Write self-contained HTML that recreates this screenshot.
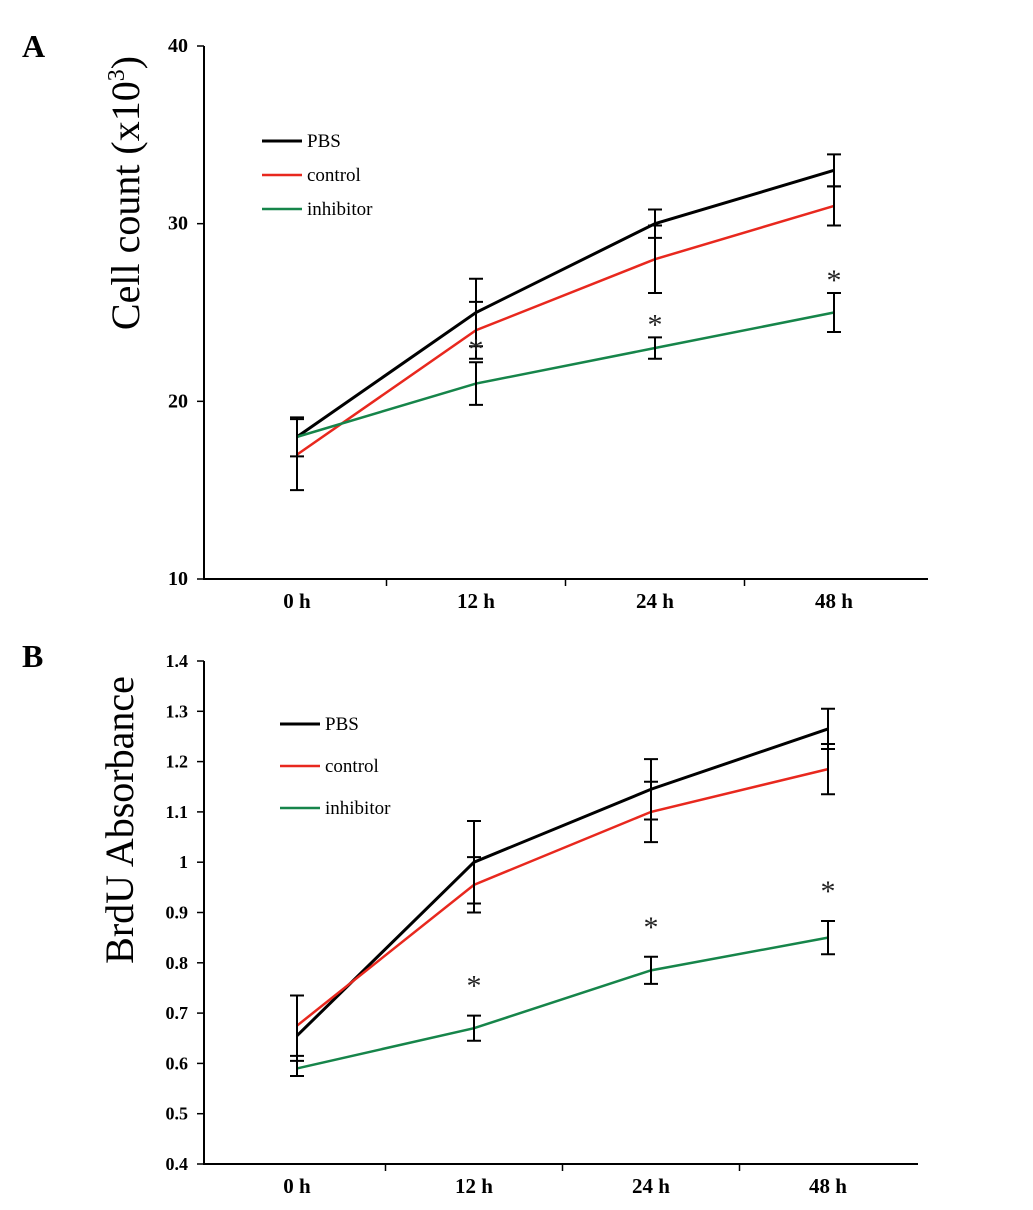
<!DOCTYPE html>
<html><head><meta charset="utf-8"><style>body{margin:0;background:#fff}svg{display:block}</style></head>
<body>
<svg id="c" width="1033" height="1210" xmlns="http://www.w3.org/2000/svg" font-family="Liberation Serif, serif"></svg>
<script>
const categories=["0 h","12 h","24 h","48 h"];
const seriesNames=["PBS","control","inhibitor"];
const colors=["#000","#e8281e","#16854a"];
const aPBS=[18,25,30,33], aCtrl=[17,24,28,31], aInh=[18,21,23,25];
const aPBSErr=[1.1,1.9,0.8,0.9], aCtrlErr=[2,1.6,1.9,1.1], aInhErr=[0.05,1.2,0.6,1.1];
const aTicks=[10,20,30,40];
const bPBS=[0.655,1.0,1.145,1.265], bCtrl=[0.675,0.955,1.10,1.185], bInh=[0.59,0.67,0.785,0.85];
const bPBSErr=[0.08,0.082,0.06,0.04], bCtrlErr=[0.06,0.055,0.06,0.05], bInhErr=[0.015,0.025,0.027,0.033];
const bTicks=[0.4,0.5,0.6,0.7,0.8,0.9,1,1.1,1.2,1.3,1.4];
const aStars=[1,2,3], bStars=[1,2,3];
const svg=document.getElementById('c');NS="http://www.w3.org/2000/svg";
function el(t,a,p){const e=document.createElementNS(NS,t);for(const k in a)e.setAttribute(k,a[k]);(p||svg).appendChild(e);return e;}
function panel(o){
 const g=el('g',{});
 
 
 const y=v=>o.y0+(v-o.min)/(o.max-o.min)*(o.y1-o.y0);
 const x=i=>o.xc[i];
 const ax=el('path',{d:`M${o.ax},${o.y1}V${o.y0}H${o.xe}`,stroke:'#000','stroke-width':2,fill:'none'},g);
 
 
 o.ticks.forEach(t=>{
  el('line',{x1:o.ax-7,x2:o.ax,y1:y(t),y2:y(t),stroke:'#000','stroke-width':1.5},g);
  const tx=el('text',{x:o.ax-16,y:y(t)+6,'text-anchor':'end','font-size':o.tfs,'font-weight':'bold'},g);
  tx.textContent=o.fmt(t);
  
  
 });
 categories.forEach((c,i)=>{
  const mx=i<3?(x(i)+x(i+1))/2:o.xe; if(i<3) el('line',{x1:mx,x2:mx,y1:o.y0,y2:o.y0+7,stroke:'#000','stroke-width':1.5},g);
  const tx=el('text',{x:x(i),y:o.y0+29,'text-anchor':'middle','font-size':21,'font-weight':'bold'},g);
  tx.textContent=c;
  
  
 });
 o.series.forEach((s,k)=>{
  const l=el('polyline',{points:s.map((v,i)=>x(i)+','+y(v)).join(' '),stroke:colors[k],'stroke-width':k==0?3:2.5,fill:'none'},g);
  
  
 });
 o.series.forEach((s,k)=>s.forEach((v,i)=>{
  const e=o.errs[k][i];if(e<0.1*(o.ticks[1]-o.ticks[0])*0.5 && o.name=='panel-a')return;
  const X=x(i),t=y(v+e),b=y(v-e);
  const p=el('path',{d:`M${X},${t}V${b}M${X-7},${t}H${X+7}M${X-7},${b}H${X+7}`,stroke:'#000','stroke-width':2,fill:'none'},g);
  
  
 }));
 o.stars.forEach(i=>{
  const v=o.series[2][i]+o.errs[2][i];
  const s=el('text',{x:x(i),y:y(v)-o.sOff,'text-anchor':'middle','font-size':30,fill:'#222'},g);
  s.textContent='*';
  
  
 });
 seriesNames.forEach((n,k)=>{
  const ly=o.ly+k*o.lgap;
  el('line',{x1:o.lx,x2:o.lx+40,y1:ly,y2:ly,stroke:colors[k],'stroke-width':k==0?3:2.5},g);
  const t=el('text',{x:o.lx+45,y:ly+6,'font-size':19},g);t.textContent=n;
  
  
 });
 const yt=el('text',{transform:`translate(${o.ytx},${o.yty}) rotate(-90)`,'text-anchor':'middle','font-size':40},g);
 yt.innerHTML=o.ylab;
 
 
 const pl=el('text',{x:22,y:o.ply,'font-size':32,'font-weight':'bold'},g);pl.textContent=o.plabel;
 
 
}
panel({name:'panel-a',min:10,max:40,y0:579,y1:46,ax:204,xe:928,xc:[297,476,655,834],series:[aPBS,aCtrl,aInh],errs:[aPBSErr,aCtrlErr,aInhErr],ticks:aTicks,fmt:t=>t,tfs:20,stars:aStars,sOff:3,lx:262,ly:141,lgap:34,ytx:139,yty:193,ylab:'Cell count (x10<tspan font-size="24" dy="-15">3</tspan><tspan dy="15">)</tspan>',ply:57,plabel:'A'});
panel({name:'panel-b',min:0.4,max:1.4,y0:1164,y1:661,ax:204,xe:918,xc:[297,474,651,828],series:[bPBS,bCtrl,bInh],errs:[bPBSErr,bCtrlErr,bInhErr],ticks:bTicks,fmt:t=>String(t),tfs:18,stars:bStars,sOff:20,lx:280,ly:724,lgap:42,ytx:133,yty:820,ylab:'BrdU Absorbance',ply:667,plabel:'B'});
</script>
</body></html>
